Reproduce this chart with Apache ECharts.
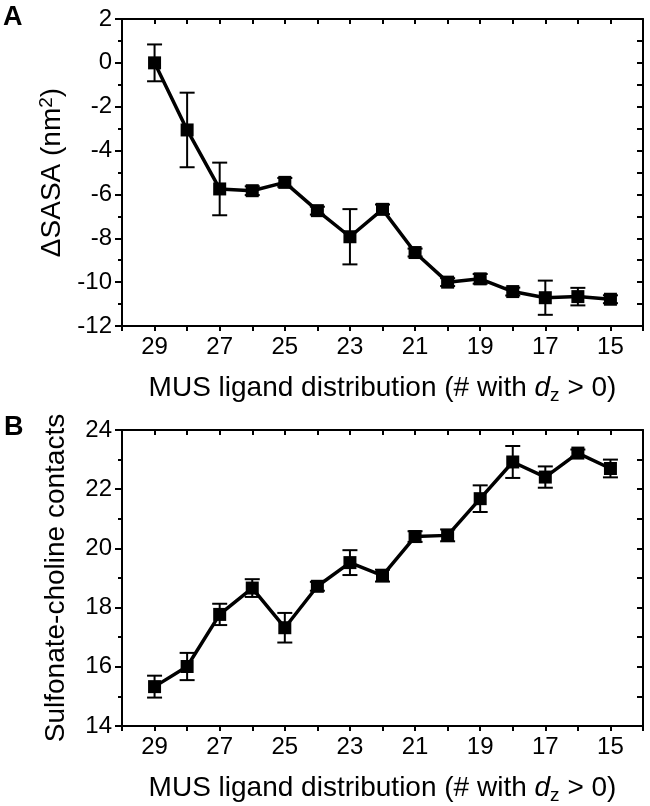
<!DOCTYPE html>
<html>
<head>
<meta charset="utf-8">
<script src="https://cdn.jsdelivr.net/npm/echarts@6/dist/echarts.min.js"></script>
<style>
html,body{margin:0;padding:0;background:#fff;}
#chart{width:650px;height:806px;}
</style>
</head>
<body>
<div id="chart"></div>
<script>
// ---- data ----
var ligandCount = [29, 28, 27, 26, 25, 24, 23, 22, 21, 20, 19, 18, 17, 16, 15];
var dSASA = [0, -3.06, -5.75, -5.83, -5.45, -6.74, -7.93, -6.68, -8.65, -10.0, -9.85, -10.43, -10.71, -10.66, -10.78];
var dSASAErr = [0.84, 1.7, 1.2, 0.2, 0.2, 0.18, 1.26, 0.22, 0.18, 0.18, 0.22, 0.18, 0.78, 0.4, 0.18];
var contacts = [15.33, 16.01, 17.77, 18.66, 17.32, 18.72, 19.52, 19.08, 20.4, 20.44, 21.68, 22.92, 22.41, 23.22, 22.7];
var contactsErr = [0.37, 0.46, 0.36, 0.3, 0.5, 0.15, 0.42, 0.2, 0.18, 0.2, 0.45, 0.54, 0.36, 0.12, 0.3];
var xTickLabels = ['29', '27', '25', '23', '21', '19', '17', '15'];

var FONT = '"Liberation Sans", Arial, Helvetica, sans-serif';
var chart = echarts.init(document.getElementById('chart'), null, {renderer: 'canvas'});

function pairs(xs, ys) { return xs.map(function (x, i) { return [x, ys[i]]; }); }
function triples(xs, ys, es) { return xs.map(function (x, i) { return [x, ys[i], es[i]]; }); }

function errRender(params, api) {
  var x = api.value(0), y = api.value(1), e = api.value(2);
  var top = api.coord([x, y + e]);
  var bot = api.coord([x, y - e]);
  var hw = 7.5;
  var st = {stroke: '#000', lineWidth: 2};
  return {
    type: 'group',
    children: [
      {type: 'line', shape: {x1: top[0], y1: top[1], x2: bot[0], y2: bot[1]}, style: st},
      {type: 'line', shape: {x1: top[0] - hw, y1: top[1], x2: top[0] + hw, y2: top[1]}, style: st},
      {type: 'line', shape: {x1: bot[0] - hw, y1: bot[1], x2: bot[0] + hw, y2: bot[1]}, style: st}
    ]
  };
}

var axisLineStyle = {show: true, onZero: false, lineStyle: {color: '#000', width: 2}};
var xTitleRich = {
  rich: {
    n: {fontFamily: FONT, fontSize: 28, color: '#000'},
    i: {fontFamily: FONT, fontSize: 28, color: '#000', fontStyle: 'italic'},
    s: {fontFamily: FONT, fontSize: 19, color: '#000', padding: [14, 0, 0, 0]}
  }
};
var xTitle = '{n|MUS ligand distribution (# with }{i|d}{s|z}{n| > 0)}';

function bottomX(gi) {
  return {
    type: 'value', gridIndex: gi, position: 'bottom', min: 14, max: 30, interval: 1, inverse: true,
    axisLine: axisLineStyle,
    axisTick: {show: true, inside: false, length: 5, lineStyle: {color: '#000', width: 2}},
    axisLabel: {
      show: true, margin: 9, fontFamily: FONT, fontSize: 24, color: '#000',
      formatter: function (v) { return xTickLabels.indexOf(String(v)) >= 0 ? String(v) : ''; }
    },
    splitLine: {show: false},
    name: xTitle, nameLocation: 'middle', nameGap: 46,
    nameTextStyle: xTitleRich
  };
}
function topX(gi) {
  return {
    type: 'value', gridIndex: gi, position: 'top', min: 14, max: 30, interval: 1, inverse: true,
    axisLine: axisLineStyle,
    axisTick: {show: true, inside: true, length: 5, lineStyle: {color: '#000', width: 2}},
    axisLabel: {show: false}, splitLine: {show: false}
  };
}
function leftY(gi, mn, mx, name) {
  return {
    type: 'value', gridIndex: gi, position: 'left', min: mn, max: mx, interval: 2,
    axisLine: axisLineStyle,
    axisTick: {show: true, inside: false, length: 7, lineStyle: {color: '#000', width: 2}},
    minorTick: {show: true, splitNumber: 2, length: 4, lineStyle: {color: '#000', width: 2}},
    axisLabel: {margin: 10, fontFamily: FONT, fontSize: 24, color: '#000'},
    splitLine: {show: false}, minorSplitLine: {show: false},
    name: name, nameLocation: 'middle', nameGap: 52,
    nameTextStyle: {
      fontFamily: FONT, fontSize: 28, color: '#000',
      rich: {
        n: {fontFamily: FONT, fontSize: 28, color: '#000'},
        sup: {fontFamily: FONT, fontSize: 19, color: '#000', padding: [0, 0, 12, 0]}
      }
    }
  };
}
function rightY(gi, mn, mx) {
  return {
    type: 'value', gridIndex: gi, position: 'right', min: mn, max: mx, interval: 1,
    axisLine: axisLineStyle,
    axisTick: {show: true, inside: true, length: 6, lineStyle: {color: '#000', width: 2}},
    axisLabel: {show: false}, splitLine: {show: false}
  };
}

var option = {
  backgroundColor: '#fff',
  animation: false,
  grid: [
    {left: 122, top: 19, width: 521, height: 307},
    {left: 122, top: 430, width: 521, height: 300}
  ],
  xAxis: [bottomX(0), topX(0), bottomX(1), topX(1)],
  yAxis: [
    leftY(0, -12, 2, '{n|\u0394SASA (nm}{sup|2}{n|)}'),
    rightY(0, -12, 2),
    leftY(1, 14, 24, 'Sulfonate-choline contacts'),
    rightY(1, 14, 24)
  ],
  graphic: [
    {type: 'text', left: 3, top: 4, style: {text: 'A', font: 'bold 27px ' + FONT, fill: '#000'}},
    {type: 'text', left: 4, top: 414, style: {text: 'B', font: 'bold 27px ' + FONT, fill: '#000'}}
  ],
  series: [
    {
      type: 'custom', xAxisIndex: 0, yAxisIndex: 0, renderItem: errRender,
      data: triples(ligandCount, dSASA, dSASAErr), z: 2
    },
    {
      type: 'line', xAxisIndex: 0, yAxisIndex: 0, data: pairs(ligandCount, dSASA),
      symbol: 'rect', symbolSize: 13, showSymbol: true,
      lineStyle: {color: '#000', width: 3.5}, itemStyle: {color: '#000'}, z: 3
    },
    {
      type: 'custom', xAxisIndex: 2, yAxisIndex: 2, renderItem: errRender,
      data: triples(ligandCount, contacts, contactsErr), z: 2
    },
    {
      type: 'line', xAxisIndex: 2, yAxisIndex: 2, data: pairs(ligandCount, contacts),
      symbol: 'rect', symbolSize: 13, showSymbol: true,
      lineStyle: {color: '#000', width: 3.5}, itemStyle: {color: '#000'}, z: 3
    }
  ]
};
chart.setOption(option);
</script>
</body>
</html>
